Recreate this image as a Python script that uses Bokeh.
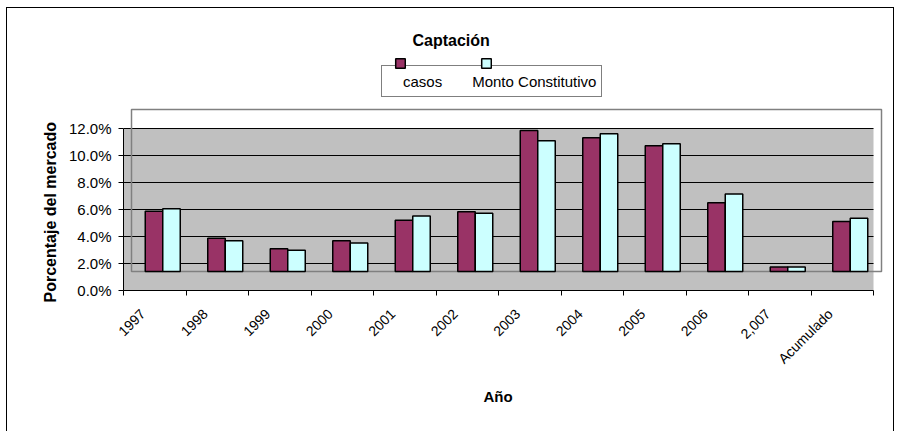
import math
from bokeh.plotting import figure
from bokeh.models import Range1d, FixedTicker, PrintfTickFormatter, Legend, LegendItem, Title
from bokeh.embed import file_html
from bokeh.resources import INLINE

# ---- data ----
categories = ["1997", "1998", "1999", "2000", "2001", "2002", "2003",
              "2004", "2005", "2006", "2,007", "Acumulado"]
casos = [4.47, 2.47, 1.68, 2.27, 3.80, 4.42, 10.44, 9.90, 9.31, 5.09, 0.33, 3.70]
monto = [4.64, 2.27, 1.58, 2.12, 4.12, 4.32, 9.68, 10.20, 9.46, 5.75, 0.33, 3.95]
y_ticks = [0, 2, 4, 6, 8, 10, 12]
series_names = ["casos", "Monto Constitutivo"]
colors = ["#993366", "#CCFFFF"]
title_text = "Captación"
x_title = "Año"
y_title = "Porcentaje del mercado"

# ---- layout constants (page pixels) ----
FONT = "Liberation Sans"
W, H = 888, 424
CX0, CY0 = 7, 8
FL, FR, FT, FB = 123, 888, 52, 290
PX_CAT = 62.5
PX_PCT = 13.5
SHIFT_X, SHIFT_Y = 8, 19
LABEL_SHIFT = 0.192
BAR_W = 0.28

n = len(categories)
x0 = LABEL_SHIFT - 0.5
x_end = x0 + (FR - FL) / PX_CAT
y_end = (FB - FT) / PX_PCT
dx = SHIFT_X / PX_CAT
dy = SHIFT_Y / PX_PCT

p = figure(width=W, height=H, output_backend="svg", toolbar_location=None,
           x_range=Range1d(x0, x_end), y_range=Range1d(0, y_end),
           min_border_left=FL - CX0, min_border_right=CX0 + W - FR,
           min_border_top=FT - CY0, min_border_bottom=CY0 + H - FB,
           background_fill_color="white", border_fill_color="white")
p.extra_x_ranges = {"bars": Range1d(x0 - dx, x_end - dx)}
p.extra_y_ranges = {"bars": Range1d(-dy, y_end - dy)}
p.outline_line_color = None
p.xgrid.visible = False
p.ygrid.visible = False
p.styles = {"border-top": "1px solid black", "border-left": "1px solid black",
            "border-right": "1px solid black",
            "margin-left": "6px", "margin-top": "7px"}

# plot area
p.quad(left=x0, right=x0 + n, bottom=y_ticks[0], top=y_ticks[-1],
       fill_color="#C0C0C0", line_color=None)
p.segment(x0=[x0] * (len(y_ticks) - 1), x1=[x0 + n] * (len(y_ticks) - 1),
          y0=y_ticks[1:], y1=y_ticks[1:], line_color="black", line_width=1)
p.quad(left=x0, right=x0 + n, bottom=y_ticks[0], top=y_ticks[-1],
       fill_color=None, line_color="#808080", line_width=1.5,
       x_range_name="bars", y_range_name="bars")

centers = [i + LABEL_SHIFT for i in range(n)]
r_casos = p.vbar(x=[c - BAR_W / 2 for c in centers], top=casos, bottom=0, width=BAR_W,
                 fill_color=colors[0], line_color="black", line_width=1.5,
                 x_range_name="bars", y_range_name="bars")
r_monto = p.vbar(x=[c + BAR_W / 2 for c in centers], top=monto, bottom=0, width=BAR_W,
                 fill_color=colors[1], line_color="black", line_width=1.5,
                 x_range_name="bars", y_range_name="bars")

# axes
xa = p.xaxis[0]
xa.ticker = FixedTicker(ticks=list(range(n)), minor_ticks=[x0 + k for k in range(n + 1)])
xa.bounds = (x0, x0 + n)
xa.major_label_overrides = {i: c for i, c in enumerate(categories)}
xa.major_label_orientation = math.pi / 4
xa.major_tick_in = 0
xa.major_tick_out = 0
xa.minor_tick_in = 0
xa.minor_tick_out = 5
xa.minor_tick_line_color = "black"
xa.axis_line_color = "black"
xa.major_label_standoff = 16
xa.major_label_text_font = FONT
xa.major_label_text_font_size = "14px"
xa.major_label_text_color = "black"

ya = p.yaxis[0]
ya.ticker = FixedTicker(ticks=y_ticks, minor_ticks=[])
ya.bounds = (y_ticks[0], y_ticks[-1])
ya.formatter = PrintfTickFormatter(format="%.1f%%")
ya.major_tick_in = 0
ya.major_tick_out = 5
ya.major_tick_line_color = "black"
ya.axis_line_color = "black"
ya.major_label_standoff = 7
ya.major_label_text_font = FONT
ya.major_label_text_font_size = "15px"
ya.major_label_text_color = "black"

# axis titles as side-panel titles (centred on the plot area)
p.add_layout(Title(text=y_title, align="left", offset=-12, vertical_align="bottom",
                   standoff=13, text_font=FONT, text_font_style="bold",
                   text_font_size="16px", text_color="black"), "left")
p.add_layout(Title(text=x_title, align="left", offset=360, vertical_align="top",
                   standoff=24, text_font=FONT, text_font_style="bold",
                   text_font_size="15px", text_color="black"), "below")

# title
p.title.text = title_text
p.title.align = "left"
p.title.offset = 289
p.title.standoff = 7
p.title.text_font = FONT
p.title.text_font_size = "16px"
p.title.text_font_style = "bold"
p.title.text_color = "black"

# legend: text box
dummies = [p.vbar(x=[], top=[], width=0.1, fill_alpha=0, line_alpha=0) for _ in series_names]
legA = Legend(items=[LegendItem(label=s, renderers=[d]) for s, d in zip(series_names, dummies)],
              location=(258, 193), orientation="horizontal",
              border_line_color="black", border_line_width=1,
              background_fill_color="white", background_fill_alpha=1,
              padding=5, spacing=14, glyph_width=6, glyph_height=20,
              label_standoff=10, label_height=20, margin=0,
              label_text_font=FONT, label_text_font_size="15px", label_text_color="black")
p.add_layout(legA)

# legend: markers (offset above the box)
legB = Legend(items=[LegendItem(label=" ", renderers=[r]) for r in (r_casos, r_monto)],
              location=(271, 221), orientation="horizontal",
              border_line_alpha=0, background_fill_alpha=0,
              padding=0, spacing=54, glyph_width=12, glyph_height=12,
              label_standoff=0, label_height=12, margin=0,
              label_text_font=FONT, label_text_font_size="1px")
p.add_layout(legB)

open("out.html", "w").write(file_html(p, INLINE, title=title_text))
